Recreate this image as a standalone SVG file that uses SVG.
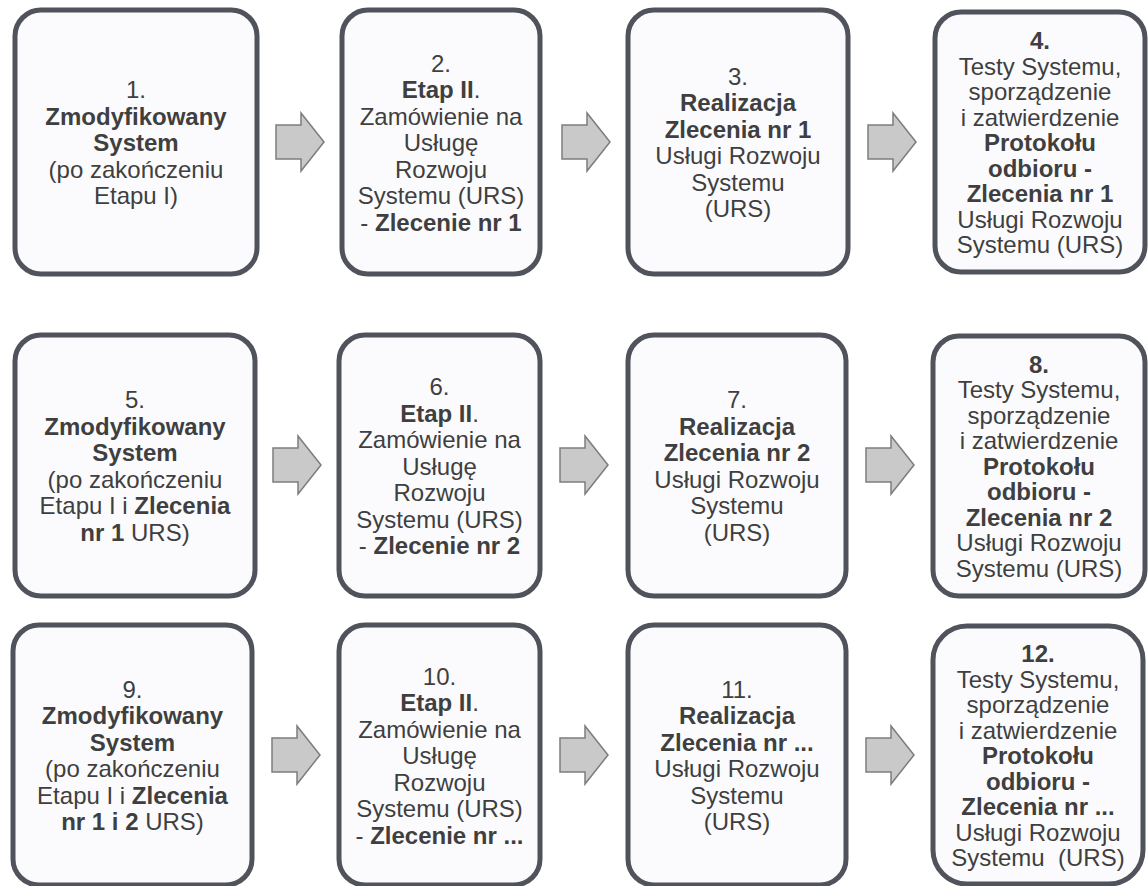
<svg xmlns="http://www.w3.org/2000/svg" xmlns:xlink="http://www.w3.org/1999/xlink" width="1148" height="886" viewBox="0 0 1148 886">
<style>
.box{fill:#fbfbfd;stroke:#50535b;stroke-width:5}
.t{font-family:"Liberation Sans",Arial,sans-serif;font-size:24px;fill:#3f3f3f;text-anchor:middle}
.b{font-weight:bold}
.arr{fill:#c9c9c9;stroke:#7d7d7d;stroke-width:1.5;stroke-linejoin:miter}
</style>
<defs>
<path id="arrow" class="arr" d="M0,-17 H25 V-29 L48,0 L25,29 V17 H0 Z"/>
</defs>
<rect width="1148" height="886" fill="#ffffff"/>
<g id="connectors">
<use xlink:href="#arrow" transform="translate(276,142)"/>
<use xlink:href="#arrow" transform="translate(562,142)"/>
<use xlink:href="#arrow" transform="translate(868,142)"/>
<use xlink:href="#arrow" transform="translate(273,465)"/>
<use xlink:href="#arrow" transform="translate(560,465)"/>
<use xlink:href="#arrow" transform="translate(866,465)"/>
<use xlink:href="#arrow" transform="translate(272,755)"/>
<use xlink:href="#arrow" transform="translate(560,755)"/>
<use xlink:href="#arrow" transform="translate(866,755)"/>
</g>
<g id="node1">
<rect class="box" x="15" y="10" width="242" height="264" rx="26"/>
<text class="t"><tspan x="136" y="98">1.</tspan><tspan x="136" y="124.5" class="b">Zmodyfikowany</tspan><tspan x="136" y="151" class="b">System</tspan><tspan x="136" y="177.5">(po zakończeniu</tspan><tspan x="136" y="204">Etapu I)</tspan></text>
</g>
<g id="node2">
<rect class="box" x="342" y="10" width="198" height="264" rx="26"/>
<text class="t"><tspan x="441" y="71.5">2.</tspan><tspan x="441" y="98"><tspan class="b">Etap II</tspan>.</tspan><tspan x="441" y="124.5">Zamówienie na</tspan><tspan x="441" y="151">Usługę</tspan><tspan x="441" y="177.5">Rozwoju</tspan><tspan x="441" y="204">Systemu (URS)</tspan><tspan x="441" y="230.5">- <tspan class="b">Zlecenie nr 1</tspan></tspan></text>
</g>
<g id="node3">
<rect class="box" x="628" y="10" width="220" height="264" rx="26"/>
<text class="t"><tspan x="738" y="84.75">3.</tspan><tspan x="738" y="111.25" class="b">Realizacja</tspan><tspan x="738" y="137.75" class="b">Zlecenia nr 1</tspan><tspan x="738" y="164.25">Usługi Rozwoju</tspan><tspan x="738" y="190.75">Systemu</tspan><tspan x="738" y="217.25">(URS)</tspan></text>
</g>
<g id="node4">
<rect class="box" x="935" y="12" width="210" height="260" rx="26"/>
<text class="t"><tspan x="1040" y="49" class="b">4.</tspan><tspan x="1040" y="74.5">Testy Systemu,</tspan><tspan x="1040" y="100">sporządzenie</tspan><tspan x="1040" y="125.5">i zatwierdzenie</tspan><tspan x="1040" y="151" class="b">Protokołu</tspan><tspan x="1040" y="176.5" class="b">odbioru -</tspan><tspan x="1040" y="202" class="b">Zlecenia nr 1</tspan><tspan x="1040" y="227.5">Usługi Rozwoju</tspan><tspan x="1040" y="253">Systemu (URS)</tspan></text>
</g>
<g id="node5">
<rect class="box" x="15" y="335" width="240" height="261" rx="26"/>
<text class="t"><tspan x="135" y="408.25">5.</tspan><tspan x="135" y="434.75" class="b">Zmodyfikowany</tspan><tspan x="135" y="461.25" class="b">System</tspan><tspan x="135" y="487.75">(po zakończeniu</tspan><tspan x="135" y="514.25">Etapu I i <tspan class="b">Zlecenia</tspan></tspan><tspan x="135" y="540.75"><tspan class="b">nr 1</tspan> URS)</tspan></text>
</g>
<g id="node6">
<rect class="box" x="339" y="335" width="201" height="261" rx="26"/>
<text class="t"><tspan x="439.5" y="395">6.</tspan><tspan x="439.5" y="421.5"><tspan class="b">Etap II</tspan>.</tspan><tspan x="439.5" y="448">Zamówienie na</tspan><tspan x="439.5" y="474.5">Usługę</tspan><tspan x="439.5" y="501">Rozwoju</tspan><tspan x="439.5" y="527.5">Systemu (URS)</tspan><tspan x="439.5" y="554">- <tspan class="b">Zlecenie nr 2</tspan></tspan></text>
</g>
<g id="node7">
<rect class="box" x="628" y="335" width="218" height="261" rx="26"/>
<text class="t"><tspan x="737" y="408.25">7.</tspan><tspan x="737" y="434.75" class="b">Realizacja</tspan><tspan x="737" y="461.25" class="b">Zlecenia nr 2</tspan><tspan x="737" y="487.75">Usługi Rozwoju</tspan><tspan x="737" y="514.25">Systemu</tspan><tspan x="737" y="540.75">(URS)</tspan></text>
</g>
<g id="node8">
<rect class="box" x="933" y="336" width="212" height="260" rx="26"/>
<text class="t"><tspan x="1039" y="372.5" class="b">8.</tspan><tspan x="1039" y="398">Testy Systemu,</tspan><tspan x="1039" y="423.5">sporządzenie</tspan><tspan x="1039" y="449">i zatwierdzenie</tspan><tspan x="1039" y="474.5" class="b">Protokołu</tspan><tspan x="1039" y="500" class="b">odbioru -</tspan><tspan x="1039" y="525.5" class="b">Zlecenia nr 2</tspan><tspan x="1039" y="551">Usługi Rozwoju</tspan><tspan x="1039" y="576.5">Systemu (URS)</tspan></text>
</g>
<g id="node9">
<rect class="box" x="13" y="625" width="239" height="260" rx="26"/>
<text class="t"><tspan x="132.5" y="697.75">9.</tspan><tspan x="132.5" y="724.25" class="b">Zmodyfikowany</tspan><tspan x="132.5" y="750.75" class="b">System</tspan><tspan x="132.5" y="777.25">(po zakończeniu</tspan><tspan x="132.5" y="803.75">Etapu I i <tspan class="b">Zlecenia</tspan></tspan><tspan x="132.5" y="830.25"><tspan class="b">nr 1 i 2</tspan> URS)</tspan></text>
</g>
<g id="node10">
<rect class="box" x="339" y="625" width="201" height="260" rx="26"/>
<text class="t"><tspan x="439.5" y="684.5">10.</tspan><tspan x="439.5" y="711"><tspan class="b">Etap II</tspan>.</tspan><tspan x="439.5" y="737.5">Zamówienie na</tspan><tspan x="439.5" y="764">Usługę</tspan><tspan x="439.5" y="790.5">Rozwoju</tspan><tspan x="439.5" y="817">Systemu (URS)</tspan><tspan x="439.5" y="843.5">- <tspan class="b">Zlecenie nr ...</tspan></tspan></text>
</g>
<g id="node11">
<rect class="box" x="628" y="625" width="218" height="260" rx="26"/>
<text class="t"><tspan x="737" y="697.75">11.</tspan><tspan x="737" y="724.25" class="b">Realizacja</tspan><tspan x="737" y="750.75" class="b">Zlecenia nr ...</tspan><tspan x="737" y="777.25">Usługi Rozwoju</tspan><tspan x="737" y="803.75">Systemu</tspan><tspan x="737" y="830.25">(URS)</tspan></text>
</g>
<g id="node12">
<rect class="box" x="933" y="626" width="210" height="258" rx="34"/>
<text class="t" xml:space="preserve"><tspan x="1038" y="662" class="b">12.</tspan><tspan x="1038" y="687.5">Testy Systemu,</tspan><tspan x="1038" y="713">sporządzenie</tspan><tspan x="1038" y="738.5">i zatwierdzenie</tspan><tspan x="1038" y="764" class="b">Protokołu</tspan><tspan x="1038" y="789.5" class="b">odbioru -</tspan><tspan x="1038" y="815" class="b">Zlecenia nr ...</tspan><tspan x="1038" y="840.5">Usługi Rozwoju</tspan><tspan x="1038" y="866">Systemu  (URS)</tspan></text>
</g>
</svg>
